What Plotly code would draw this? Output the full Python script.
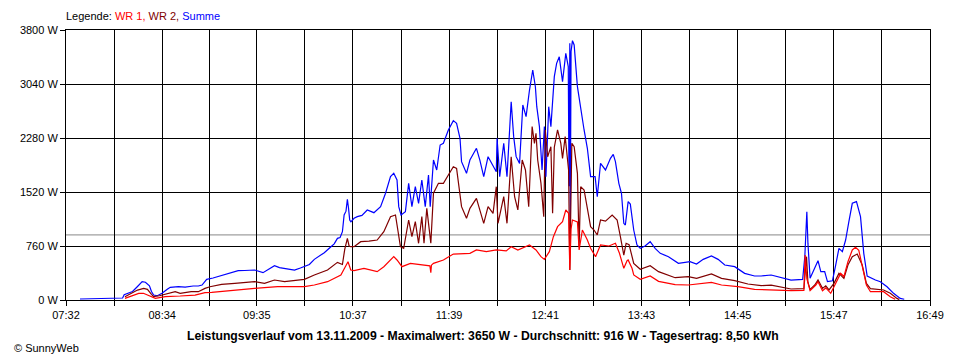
import plotly.graph_objects as go

# ---- data (time in minutes after midnight, power in W) ----
x_tick_labels = ["07:32", "08:34", "09:35", "10:37", "11:39", "12:41", "13:43", "14:45", "15:47", "16:49"]
y_tick_values = [0, 760, 1520, 2280, 3040, 3800]
y_tick_labels = ["0 W", "760 W", "1520 W", "2280 W", "3040 W", "3800 W"]
average_w = 916

t_summe = [461.0, 471.2, 480.8, 488.5, 489.5, 491.7, 494.9, 498.1, 501.1, 503.2, 505.8, 507.1, 508.5, 510.9, 513.9,
           517.3, 519.2, 524.5, 528.8, 534.0, 537.3, 539.7, 542.7, 546.8, 550.0, 554.4, 558.3, 563.0, 567.2, 573.6,
           579.0, 582.6, 586.4, 589.6, 592.9, 599.3, 603.1, 605.7, 608.9, 612.1, 615.3, 618.5, 622.8, 624.9, 627.0,
           628.7, 630.2, 631.3, 632.5, 633.4, 634.1, 634.9, 635.7, 637.7, 639.8, 642.8, 646.2, 648.6, 650.5, 654.8,
           658.0, 661.2, 663.3, 665.4, 666.5, 668.0, 670.8, 672.9, 675.0, 677.2, 679.3, 681.4, 683.6, 685.7, 686.8,
           688.9, 691.0, 693.2, 695.3, 698.5, 701.7, 703.8, 706.0, 707.0, 710.2, 712.4, 716.6, 718.8, 721.3, 724.1,
           727.3, 729.4, 729.9, 731.6, 734.2, 736.3, 739.0, 740.6, 742.2, 744.4, 746.5, 748.6, 750.8, 752.9, 754.6,
           755.5, 757.2, 758.9, 760.4, 761.4, 763.2, 764.6, 766.8, 768.3, 770.0, 772.1, 774.2, 775.8, 776.3, 776.8,
           777.1, 777.6, 778.5, 779.6, 781.7, 783.8, 786.0, 788.1, 790.2, 793.1, 794.5, 796.6, 799.8, 803.0, 804.8,
           806.2, 808.4, 810.1, 811.6, 812.6, 814.4, 815.8, 818.0, 820.1, 822.2, 825.3, 828.6, 831.8, 835.1, 840.4,
           846.8, 854.3, 858.5, 862.8, 868.1, 872.4, 876.7, 883.1, 889.5, 895.9, 900.2, 906.6, 913.0, 919.4, 926.9,
           928.3, 929.6, 930.3, 931.7, 934.3, 936.8, 938.6, 941.1, 942.9, 946.1, 948.2, 950.3, 952.5, 954.6, 956.7,
           958.9, 961.6, 964.2, 966.3, 968.5, 973.8, 977.0, 981.3, 985.5, 989.8, 992.4]
summe = [14, 20, 24, 28, 75, 94, 120, 190, 258, 250, 200, 120, 70, 60, 94,
         150, 178, 187, 180, 197, 197, 211, 291, 310, 330, 366, 390, 413, 415, 422,
         385, 430, 483, 455, 446, 422, 450, 469, 500, 572, 615, 666, 750, 790, 868,
         880, 961, 1196, 1250, 1417, 1300, 1126, 1100, 1150, 1173, 1190, 1267, 1250, 1229, 1314,
         1502, 1736, 1783, 1689, 1314, 1196, 1243, 1642, 1314, 1595, 1361, 1689, 1314, 1759, 1314,
         1970, 1830, 2181, 2205, 2393, 2524, 2486, 2276, 1947, 1783, 1970, 2135, 1970, 1736, 2017,
         1876, 1806, 2276, 1736, 2205, 1736, 2790, 2299, 2017, 1923, 2744, 2580, 2955, 3237, 3002,
         2721, 2440, 1830, 2440, 1736, 2721, 2440, 3143, 3331, 3424, 3073, 3472, 3284, 1600, 3613,
         1050, 3500, 3650, 3589, 3002, 2674, 2393, 2135, 1736, 1736, 1454, 1923, 1830, 1994, 2050,
         1947, 1642, 1502, 1079, 1055, 1384, 1350, 985, 774, 727, 760, 821, 727, 657, 610,
         516, 539, 507, 572, 619, 572, 492, 469, 375, 338, 338, 352, 319, 281, 290,
         610, 1243, 800, 305, 422, 553, 399, 399, 258, 270, 492, 727, 680, 844, 1102,
         1361, 1384, 1173, 657, 338, 281, 258, 187, 94, 23, 10]

t_wr2 = [490.0, 493.6, 498.1, 502.1, 504.5, 507.1, 508.5, 512.2, 516.0, 522.4, 525.6, 532.7, 537.3, 541.6, 544.8,
         552.3, 560.8, 567.2, 573.6, 580.0, 586.4, 592.9, 599.3, 605.7, 612.1, 620.6, 627.0, 630.2, 631.7, 633.4,
         634.5, 635.6, 637.7, 642.0, 647.3, 652.6, 656.9, 661.2, 664.4, 665.8, 667.6, 669.7, 672.9, 675.0, 677.2,
         679.3, 681.4, 682.8, 684.6, 687.2, 688.9, 692.1, 695.3, 698.5, 701.7, 703.8, 706.0, 707.0, 710.2, 712.4,
         716.6, 718.8, 721.3, 724.1, 727.3, 729.4, 730.5, 734.2, 736.3, 739.0, 741.2, 743.3, 746.1, 748.2, 750.3,
         752.5, 754.0, 755.0, 756.1, 758.2, 760.0, 761.0, 762.5, 764.6, 765.7, 766.8, 768.9, 771.0, 772.1, 773.8,
         776.0, 776.8, 777.6, 778.1, 779.6, 781.7, 782.8, 783.8, 786.0, 788.1, 790.2, 792.4, 794.5, 796.6, 799.8,
         804.1, 807.3, 809.4, 811.6, 813.1, 815.0, 818.0, 822.2, 828.6, 834.0, 844.7, 853.2, 858.5, 868.1, 874.6,
         883.1, 891.6, 900.2, 906.6, 913.0, 919.4, 927.7, 928.3, 929.4, 930.3, 931.7, 934.7, 936.8, 939.7, 941.8,
         943.9, 947.1, 950.3, 953.5, 956.1, 958.9, 962.1, 965.3, 968.0, 970.6, 979.1, 983.4, 987.7, 989.2]
wr2 = [47, 90, 140, 164, 150, 80, 47, 60, 84, 117, 94, 117, 117, 164, 187,
       220, 234, 250, 258, 234, 281, 258, 270, 291, 352, 422, 530, 500, 713, 868,
       760, 750, 750, 821, 830, 844, 961, 1173, 1196, 1020, 750, 727, 1126, 891, 1102,
       798, 1173, 798, 1290, 798, 1502, 1642, 1642, 1759, 1876, 1853, 1454, 1314, 1150, 1290,
       1431, 1267, 1079, 1314, 1220, 1595, 1079, 1454, 1079, 2017, 1454, 1267, 1970, 1830, 1314,
       2440, 2205, 2346, 1970, 1642, 1173, 2393, 2017, 2158, 1220, 2150, 2393, 2205, 1994, 2299,
       1830, 422, 1500, 2205, 2158, 1783, 750, 1595, 1548, 1267, 1032, 985, 915, 1126, 1110,
       1196, 1126, 891, 633, 798, 780, 516, 432, 483, 399, 314, 328, 305, 366, 305,
       272, 225, 202, 210, 187, 155, 160, 328, 610, 250, 150, 211, 281, 164, 200,
       141, 234, 375, 305, 492, 610, 647, 492, 234, 159, 141, 94, 23, 5]

t_wr1 = [490.0, 493.6, 498.9, 501.9, 505.1, 507.5, 509.6, 516.0, 522.4, 525.6, 535.2, 541.6, 545.9, 560.8, 573.6,
         588.4, 605.7, 612.1, 620.6, 629.2, 631.3, 633.8, 635.6, 637.7, 644.1, 652.6, 656.9, 663.3, 665.4, 668.6,
         674.0, 682.5, 686.6, 687.2, 687.6, 688.9, 695.3, 701.7, 712.4, 716.6, 723.0, 729.4, 735.8, 739.0, 743.3,
         750.8, 755.0, 758.2, 760.4, 763.6, 766.2, 768.9, 772.1, 774.2, 776.0, 776.8, 777.6, 778.5, 781.7, 782.8,
         784.9, 788.1, 790.2, 793.4, 796.6, 802.0, 806.2, 808.8, 811.6, 813.7, 814.4, 816.9, 818.0, 822.2, 828.6,
         834.0, 844.7, 853.2, 868.1, 874.6, 885.2, 895.9, 906.6, 919.4, 927.7, 928.5, 929.6, 931.7, 935.4, 936.8,
         939.7, 941.8, 945.0, 948.2, 951.4, 953.5, 956.1, 958.9, 961.0, 963.1, 965.3, 968.0, 970.6, 979.1, 983.4,
         986.6]
wr1 = [23, 50, 94, 94, 60, 38, 23, 47, 60, 56, 70, 103, 108, 141, 164,
       187, 187, 211, 258, 352, 446, 539, 422, 413, 446, 399, 469, 610, 563, 469,
       516, 492, 480, 385, 490, 516, 563, 647, 657, 704, 680, 704, 690, 750, 704,
       774, 704, 610, 572, 680, 891, 1032, 1102, 1267, 1220, 422, 1000, 1126, 1100, 704,
       985, 844, 727, 610, 774, 760, 798, 657, 446, 553, 563, 446, 352, 291, 338,
       263, 216, 211, 249, 211, 187, 150, 141, 131, 135, 633, 300, 131, 211, 258,
       131, 170, 94, 234, 375, 330, 539, 704, 741, 700, 492, 211, 117, 117, 47,
       10]

# ---- helpers ----
def to_min(s):
    h, m = s.split(":")
    return int(h) * 60 + int(m)

label_mins = [to_min(s) for s in x_tick_labels]
tickvals, ticktext = [], []
for i, v in enumerate(label_mins):
    tickvals.append(v)
    ticktext.append(x_tick_labels[i])
    if i < len(label_mins) - 1:
        tickvals.append((v + label_mins[i + 1]) / 2)
        ticktext.append("")

FONT = "Liberation Sans, Arial, sans-serif"
PW, PH = 870, 270  # plot area size in px

fig = go.Figure()
fig.add_trace(go.Scatter(x=t_summe, y=summe, mode="lines", name="Summe",
                         line=dict(color="#0000FF", width=1.2)))
fig.add_trace(go.Scatter(x=t_wr2, y=wr2, mode="lines", name="WR 2",
                         line=dict(color="#800000", width=1.2)))
fig.add_trace(go.Scatter(x=t_wr1, y=wr1, mode="lines", name="WR 1",
                         line=dict(color="#FF0000", width=1.2)))

fig.add_shape(type="line", xref="paper", x0=0, x1=1, yref="y", y0=average_w, y1=average_w,
              line=dict(color="#888888", width=1), layer="below")

# page body has an 8px default margin; figure sized so the plot lands at 60..930 x 30..300
fig.update_layout(
    width=952, height=352,
    margin=dict(l=52, r=30, t=22, b=60),
    paper_bgcolor="white", plot_bgcolor="white",
    showlegend=False,
    font=dict(family=FONT, size=11, color="black"),
    xaxis=dict(range=[label_mins[0], label_mins[-1]], tickvals=tickvals, ticktext=ticktext,
               showgrid=True, gridcolor="black", gridwidth=1,
               showline=True, linecolor="black", linewidth=1, mirror=True,
               ticks="outside", ticklen=5, tickcolor="black", zeroline=False,
               tickfont=dict(family=FONT, size=11)),
    yaxis=dict(range=[0, 3800], tickvals=y_tick_values, ticktext=y_tick_labels,
               showgrid=True, gridcolor="black", gridwidth=1,
               showline=True, linecolor="black", linewidth=1, mirror=True,
               ticks="outside", ticklen=5, tickcolor="black", zeroline=False,
               tickfont=dict(family=FONT, size=11)),
)

fig.add_annotation(xref="paper", yref="paper", x=-2 / PW, y=1 + 14 / PH, xanchor="left", yanchor="middle",
                   showarrow=False, font=dict(family=FONT, size=11),
                   text="Legende: <span style='color:#FF0000'>WR 1, </span>"
                        "<span style='color:#800000'>WR 2, </span>"
                        "<span style='color:#0000FF'>Summe</span>")
fig.add_annotation(xref="paper", yref="paper", x=(480 - 60) / PW, y=-36 / PH, xanchor="center", yanchor="middle",
                   showarrow=False, font=dict(family=FONT, size=12.2),
                   text="<b>Leistungsverlauf vom 13.11.2009 - Maximalwert: 3650 W - Durchschnitt: 916 W - Tagesertrag: 8,50 kWh</b>")
fig.add_annotation(xref="paper", yref="paper", x=(6 - 60) / PW, y=-48 / PH, xanchor="left", yanchor="middle",
                   showarrow=False, font=dict(family=FONT, size=11),
                   text="© SunnyWeb")

fig.write_html("out.html")
